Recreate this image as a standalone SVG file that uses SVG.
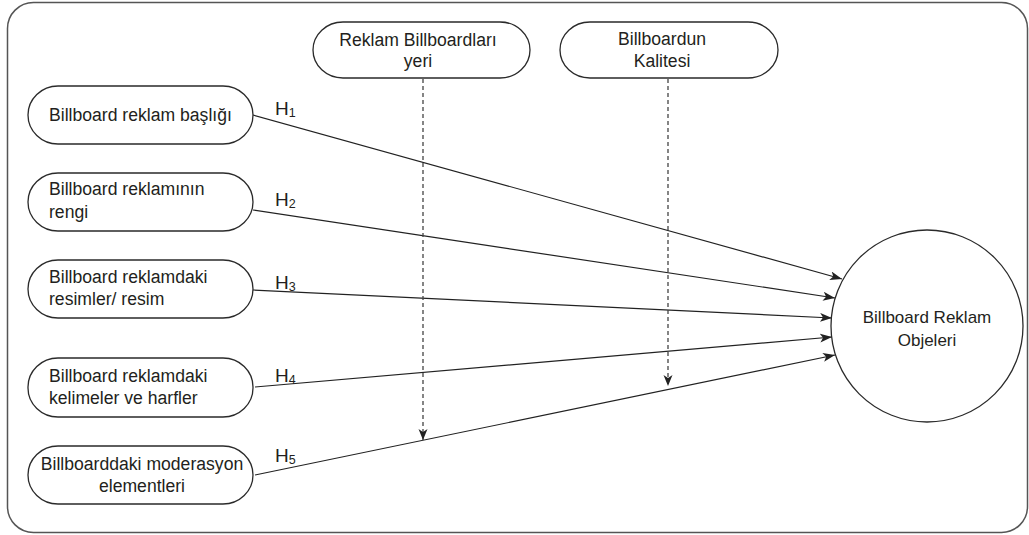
<svg xmlns="http://www.w3.org/2000/svg" width="1029" height="535" viewBox="0 0 1029 535">
<style>
.box{fill:#fff;stroke:#2a2a2a;stroke-width:1.3}
.t{font-family:"Liberation Sans",Arial,sans-serif;font-size:17.6px;fill:#231f20}
.tc{font-family:"Liberation Sans",Arial,sans-serif;font-size:17px;fill:#231f20;text-anchor:middle}
.h{font-family:"Liberation Sans",Arial,sans-serif;font-size:19px;fill:#231f20}
.sub{font-size:12.5px}
.edge{stroke:#222;stroke-width:1.2;fill:none;marker-end:url(#ah)}
.dash{stroke:#444;stroke-width:1.3;fill:none;stroke-dasharray:4 3;marker-end:url(#ad)}
</style>
<defs>
<marker id="ah" markerUnits="userSpaceOnUse" markerWidth="14" markerHeight="10" refX="12" refY="4.5" orient="auto">
<path d="M0,0 L12,4.5 L0,9 L3,4.5 z" fill="#222"/>
</marker>
<marker id="ad" markerUnits="userSpaceOnUse" markerWidth="14" markerHeight="10" refX="11" refY="4.5" orient="auto">
<path d="M0,0 L11,4.5 L0,9 L3,4.5 z" fill="#222"/>
</marker>
</defs>
<rect x="7.5" y="2.5" width="1020" height="530" rx="26" ry="26" fill="#fff" stroke="#555" stroke-width="1.5"/>

<g id="connectors">
<line class="edge" x1="253" y1="115" x2="842" y2="279"/>
<line class="edge" x1="253" y1="210" x2="835" y2="298"/>
<line class="edge" x1="253" y1="290" x2="832" y2="318"/>
<line class="edge" x1="255" y1="387" x2="832" y2="337"/>
<line class="edge" x1="255" y1="475" x2="835" y2="355"/>
<line class="dash" x1="423" y1="79" x2="423" y2="440"/>
<line class="dash" x1="668" y1="79" x2="668" y2="386"/>
<text class="h" x="275" y="115">H<tspan class="sub" dy="2">1</tspan></text>
<text class="h" x="275" y="206">H<tspan class="sub" dy="2">2</tspan></text>
<text class="h" x="275" y="289">H<tspan class="sub" dy="2">3</tspan></text>
<text class="h" x="275" y="382">H<tspan class="sub" dy="2">4</tspan></text>
<text class="h" x="275" y="462">H<tspan class="sub" dy="2">5</tspan></text>
</g>

<g id="n1">
<rect class="box" x="28" y="86" width="225" height="58" rx="30" ry="29"/>
<text class="t" x="49" y="121">Billboard reklam başlığı</text>
</g>
<g id="n2">
<rect class="box" x="28" y="173" width="225" height="58" rx="30" ry="29"/>
<text class="t" x="49" y="195">Billboard reklamının</text>
<text class="t" x="49" y="218">rengi</text>
</g>
<g id="n3">
<rect class="box" x="28" y="260" width="225" height="58" rx="30" ry="29"/>
<text class="t" x="49" y="283">Billboard reklamdaki</text>
<text class="t" x="49" y="305">resimler/ resim</text>
</g>
<g id="n4">
<rect class="box" x="28" y="358" width="225" height="59" rx="30" ry="29"/>
<text class="t" x="49" y="382">Billboard reklamdaki</text>
<text class="t" x="49" y="404">kelimeler ve harfler</text>
</g>
<g id="n5">
<rect class="box" x="28" y="446" width="225" height="58" rx="30" ry="29"/>
<text class="t" x="142" y="470" text-anchor="middle">Billboarddaki moderasyon</text>
<text class="t" x="142" y="492" text-anchor="middle">elementleri</text>
</g>
<g id="mA">
<rect class="box" x="313" y="22" width="217" height="56" rx="30" ry="28"/>
<text class="t" x="418" y="46" text-anchor="middle">Reklam Billboardları</text>
<text class="t" x="418" y="67" text-anchor="middle">yeri</text>
</g>
<g id="mB">
<rect class="box" x="560" y="22" width="218" height="56" rx="30" ry="28"/>
<text class="t" x="662" y="45" text-anchor="middle">Billboardun</text>
<text class="t" x="662" y="67" text-anchor="middle">Kalitesi</text>
</g>
<g id="outcome">
<circle class="box" cx="927" cy="326" r="96"/>
<text class="tc" x="927" y="323">Billboard Reklam</text>
<text class="tc" x="927" y="346">Objeleri</text>
</g>
</svg>
